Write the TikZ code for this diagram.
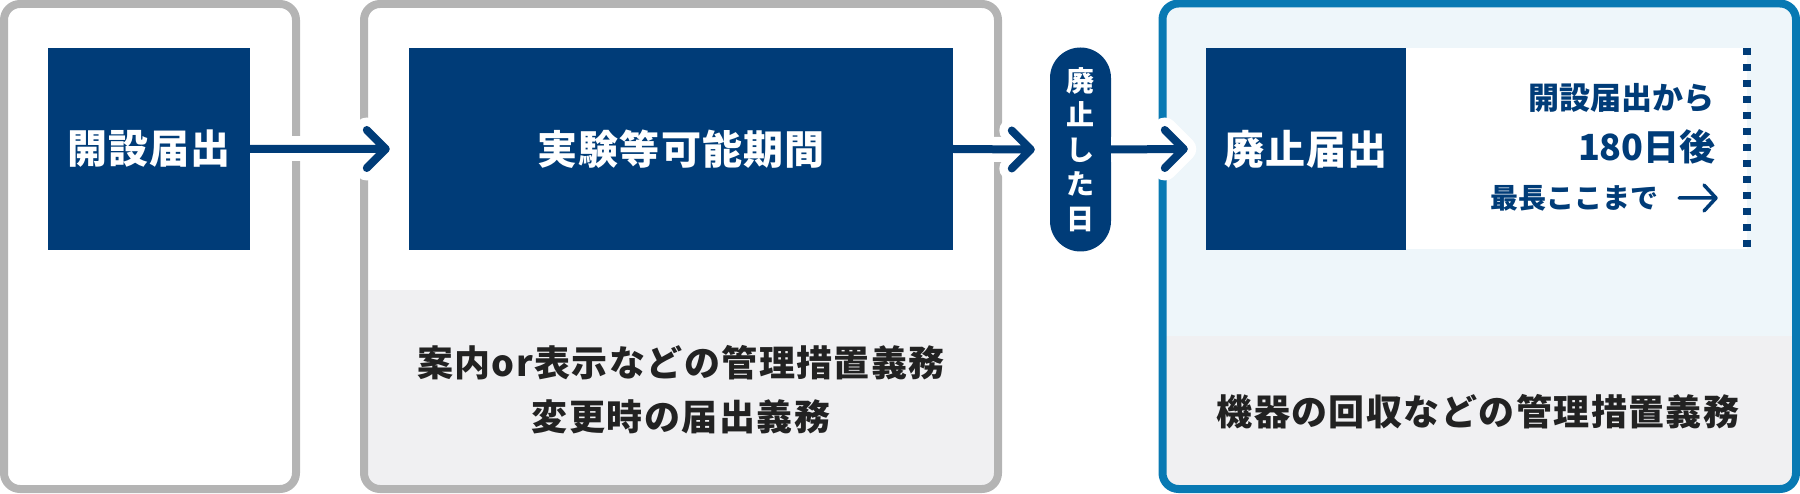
\documentclass[tikz,border=0pt]{standalone}
\usepackage{fontspec}
\setmainfont{Noto Sans CJK JP}
\usepackage{tikz}
\usetikzlibrary{positioning}

\definecolor{navy}{HTML}{003C78}
\definecolor{framegray}{HTML}{B4B4B4}
\definecolor{bandgray}{HTML}{F0F0F2}
\definecolor{frameblue}{HTML}{0879B3}
\definecolor{paleblue}{HTML}{EEF6FA}
\definecolor{ink}{HTML}{222222}

\begin{document}
\begin{tikzpicture}[x=1pt, y=-1pt,
    frame/.style={line width=8pt, rounded corners=16pt},
    navybox/.style={fill=navy, text=white, inner sep=0pt, minimum height=202pt,
        font=\fontsize{40}{40}\selectfont\bfseries\addfontfeature{LetterSpace=3}},
    bandtext/.style={text=ink, inner sep=0pt, align=center,
        font=\fontsize{36}{54}\selectfont\bfseries\addfontfeature{LetterSpace=4}},
    sidetext/.style={text=navy, inner sep=0pt}]
\useasboundingbox (0,0) rectangle (1800,494);

\draw[frame, framegray, fill=white] (4,4) rectangle (296,489);

\begin{scope}
    \clip[rounded corners=16pt] (364,4) rectangle (998,489);
    \fill[white] (364,4) rectangle (998,290);
    \fill[bandgray] (364,290) rectangle (998,489);
\end{scope}
\draw[frame, framegray] (364,4) rectangle (998,489);

\begin{scope}
    \clip[rounded corners=16pt] (1162.5,3.5) rectangle (1796,489);
    \fill[paleblue] (1162.5,3.5) rectangle (1796,336);
    \fill[bandgray] (1162.5,336) rectangle (1796,489);
\end{scope}
\draw[frame, frameblue] (1162.5,3.5) rectangle (1796,489);

\fill[white] (1406,48) rectangle (1747,249);
\draw[navy, line width=8pt, dash pattern=on 7pt off 9pt] (1747,48) -- (1747,249);

\node[navybox, minimum width=202pt] (open) at (149,149) {開設届出};
\node[navybox, minimum width=544pt] (trial) at (681,149) {実験等可能期間};
\node[fill=navy, text=white, rounded corners=30.5pt, minimum width=61pt, minimum height=204pt,
    inner sep=0pt, align=center, font=\fontsize{28}{34.5}\selectfont\bfseries]
    (enddate) at (1080.5,149.5) {廃\\止\\し\\た\\日};
\node[navybox, minimum width=200pt] (close) at (1306,149) {廃止届出};

\coordinate[left=23pt of trial.west] (tip1);
\coordinate[left=19pt of enddate.west] (tip2);
\coordinate[left=22pt of close.west] (tip3);

\foreach \a/\b in {open/tip1, trial/tip2, enddate/tip3} {
    \draw[white, line width=25pt] (\a.east) -- (\b);
    \draw[white, line width=25pt, line cap=round, line join=round]
        ([shift={(-19,-19)}]\b) -- (\b) -- ([shift={(-19,19)}]\b);
    \draw[navy, line width=8pt, line cap=round, line join=round]
        (\a.east) -- (\b) ([shift={(-19,-19)}]\b) -- (\b) -- ([shift={(-19,19)}]\b);
}

\node[sidetext, anchor=east, font=\fontsize{31}{31}\selectfont\bfseries] (since) at (1715,98) {開設届出から};
\node[sidetext, anchor=east, font=\fontsize{36}{36}\selectfont\bfseries] (days) at (1716,147) {180日後};
\node[sidetext, anchor=west, font=\fontsize{28}{28}\selectfont\bfseries] (upto) at (1490,198) {最長ここまで};
\coordinate (limfrom) at (1679,198);
\coordinate (limto) at (1716,198);
\draw[navy, line width=3.5pt, line cap=round, line join=round]
    (limfrom) -- (limto) ([shift={(-12,-13)}]limto) -- (limto) -- ([shift={(-12,13)}]limto);

\node[bandtext] (duty) at (681,390) {案内or表示などの管理措置義務\\変更時の届出義務};
\node[bandtext] (returnduty) at (1478,412) {機器の回収などの管理措置義務};
\end{tikzpicture}
\end{document}
